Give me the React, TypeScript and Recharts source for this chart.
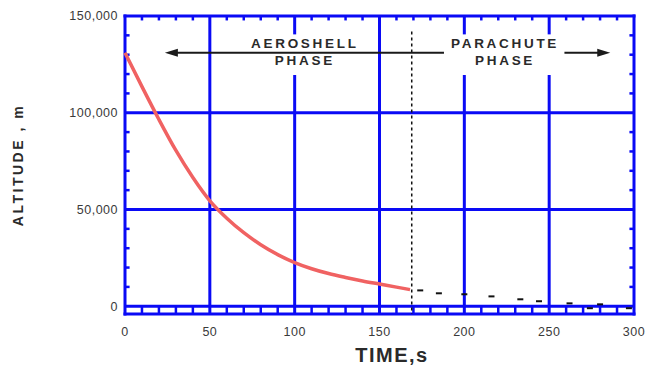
import {
  ComposedChart,
  Line,
  Scatter,
  XAxis,
  YAxis,
  ReferenceLine,
  ReferenceDot,
} from "recharts";

// aeroshell phase altitude (m) vs time (s)
const aeroTime = [0, 10, 20, 30, 40, 50, 60, 70, 80, 90, 100, 110, 120, 130, 140, 150, 160, 168];
const aeroAlt = [131000, 113500, 96500, 80500, 66500, 54500, 45500, 38000, 31800, 26700, 22600, 19400, 16900, 14900, 13100, 11500, 9900, 8600];

// parachute phase, sparse dashes
const chuteTime = [174, 185, 200, 216, 233, 244, 262, 274, 280, 297];
const chuteAlt = [8200, 6700, 6200, 5100, 3600, 2600, 1500, -1000, 1000, -1000];

const xTicks = [0, 50, 100, 150, 200, 250, 300];
const yTicks = [0, 50000, 100000, 150000];
const fullGridX = [50, 150];
const splitGridX = [100, 200, 250];
const gridY = [0, 50000, 100000];
const minorX = [10, 20, 30, 40, 60, 70, 80, 90, 110, 120, 130, 140, 160, 170, 180, 190, 210, 220, 230, 240, 260, 270, 280, 290];
const minorY = [10000, 20000, 30000, 40000, 60000, 70000, 80000, 90000, 110000, 120000, 130000, 140000];

const separatorTime = 169;
const arrowAlt = 131000;

const aeroData = aeroTime.map((t, i) => ({ t, alt: aeroAlt[i] }));
const chuteData = chuteTime.map((t, i) => ({ t, alt: chuteAlt[i] }));

const BLUE = "#0a0af5";
const Y_MIN = -4000;
const Y_MAX = 150000;
const FONT = "Liberation Sans, Arial, sans-serif";

const phaseText = (lines: string[]) => (props: any) => (
  <text
    x={props.cx}
    y={props.cy}
    textAnchor="middle"
    fontFamily={FONT}
    fontWeight="bold"
    fontSize={13.5}
    letterSpacing={2.7}
    fill="#2a2a2a"
  >
    {lines.map((s, i) => (
      <tspan key={s} x={props.cx} dy={i === 0 ? 0 : 17}>
        {s}
      </tspan>
    ))}
  </text>
);

const arrowHead = (dir: number) => (props: any) => (
  <polygon
    points={`${props.cx},${props.cy} ${props.cx + dir * 13},${props.cy - 4} ${props.cx + dir * 13},${props.cy + 4}`}
    fill="#1a1a1a"
  />
);

const dash = (props: any) => (
  <line x1={props.cx - 3} x2={props.cx + 3} y1={props.cy} y2={props.cy} stroke="#111" strokeWidth={2} />
);

const tickStyle = { fontFamily: FONT, fontSize: 12.5, fill: "#3a3a3a", letterSpacing: 0.5 };

export default function App() {
  return (
    <div style={{ width: 650, height: 377, background: "#fff" }}>
      <style>{"body{margin:0}"}</style>
      <ComposedChart width={650} height={377} margin={{ top: 16, right: 16, left: 0, bottom: 0 }}>
        <XAxis
          type="number"
          dataKey="t"
          domain={[0, 300]}
          ticks={xTicks}
          axisLine={false}
          tickLine={false}
          tickSize={0}
          tickMargin={13}
          height={63}
          tick={tickStyle}
          label={{
            content: () => (
              <text x={392} y={362} textAnchor="middle" fontFamily={FONT} fontWeight="bold" fontSize={20} letterSpacing={1.5} fill="#2a2a2a">
                TIME,s
              </text>
            ),
          }}
        />
        <YAxis
          type="number"
          domain={[Y_MIN, Y_MAX]}
          ticks={yTicks}
          allowDataOverflow
          axisLine={false}
          tickLine={false}
          tickSize={0}
          tickMargin={7}
          width={125}
          tick={tickStyle}
          tickFormatter={(v: number) => v.toLocaleString("en-US")}
          label={{
            content: () => (
              <text
                x={23}
                y={165}
                transform="rotate(-90 23 165)"
                textAnchor="middle"
                fontFamily={FONT}
                fontWeight="bold"
                fontSize={14}
                letterSpacing={2.5}
                fill="#2a2a2a"
              >
                ALTITUDE , m
              </text>
            ),
          }}
        />

        {/* blue grid */}
        {fullGridX.map((x) => (
          <ReferenceLine key={`gx${x}`} x={x} stroke={BLUE} strokeWidth={3} />
        ))}
        {splitGridX.map((x) => (
          <ReferenceLine key={`gl${x}`} segment={[{ x, y: Y_MIN }, { x, y: 119500 }]} stroke={BLUE} strokeWidth={3} />
        ))}
        {splitGridX.map((x) => (
          <ReferenceLine key={`gh${x}`} segment={[{ x, y: 140500 }, { x, y: Y_MAX }]} stroke={BLUE} strokeWidth={3} />
        ))}
        {gridY.map((y) => (
          <ReferenceLine key={`gy${y}`} y={y} stroke={BLUE} strokeWidth={3} />
        ))}

        {/* minor ticks */}
        {minorX.map((x) => (
          <ReferenceLine key={`tb${x}`} segment={[{ x, y: Y_MIN }, { x, y: 0 }]} stroke={BLUE} strokeWidth={2.5} />
        ))}
        {minorX.map((x) => (
          <ReferenceLine key={`tt${x}`} segment={[{ x, y: Y_MAX }, { x, y: 147700 }]} stroke={BLUE} strokeWidth={2.5} />
        ))}
        {minorY.map((y) => (
          <ReferenceLine key={`tl${y}`} segment={[{ x: 0, y }, { x: 2.7, y }]} stroke={BLUE} strokeWidth={2.5} />
        ))}
        {minorY.map((y) => (
          <ReferenceLine key={`tr${y}`} segment={[{ x: 300, y }, { x: 297.3, y }]} stroke={BLUE} strokeWidth={2.5} />
        ))}

        {/* frame */}
        <ReferenceLine x={0} stroke={BLUE} strokeWidth={3} strokeLinecap="square" />
        <ReferenceLine x={300} stroke={BLUE} strokeWidth={3} strokeLinecap="square" />
        <ReferenceLine y={Y_MAX} stroke={BLUE} strokeWidth={3} strokeLinecap="square" />
        <ReferenceLine y={Y_MIN} stroke={BLUE} strokeWidth={3} strokeLinecap="square" />

        {/* phase separator */}
        <ReferenceLine
          segment={[{ x: separatorTime, y: 142000 }, { x: separatorTime, y: Y_MIN }]}
          stroke="#111"
          strokeWidth={1.5}
          strokeDasharray="3 3"
        />

        {/* phase arrows */}
        <ReferenceLine segment={[{ x: 28, y: arrowAlt }, { x: 188, y: arrowAlt }]} stroke="#1a1a1a" strokeWidth={2} />
        <ReferenceLine segment={[{ x: 259, y: arrowAlt }, { x: 282, y: arrowAlt }]} stroke="#1a1a1a" strokeWidth={2} />
        <ReferenceDot x={23.5} y={arrowAlt} shape={arrowHead(1)} />
        <ReferenceDot x={286} y={arrowAlt} shape={arrowHead(-1)} />
        <ReferenceDot x={106} y={133500} shape={phaseText(["AEROSHELL", "PHASE"])} />
        <ReferenceDot x={224} y={133500} shape={phaseText(["PARACHUTE", "PHASE"])} />

        <Line
          data={aeroData}
          dataKey="alt"
          type="monotone"
          stroke="#f06262"
          strokeWidth={3.5}
          dot={false}
          isAnimationActive={false}
        />
        <Scatter data={chuteData} dataKey="alt" shape={dash} isAnimationActive={false} />
      </ComposedChart>
    </div>
  );
}
